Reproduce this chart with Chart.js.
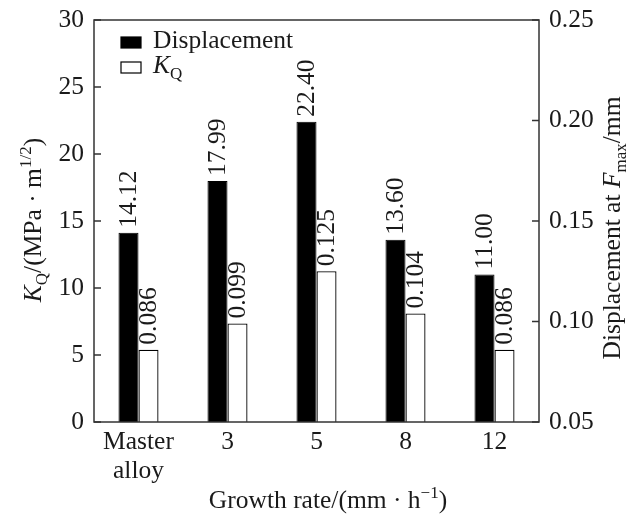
<!DOCTYPE html>
<html>
<head>
<meta charset="utf-8">
<script src="https://cdn.jsdelivr.net/npm/chart.js@4"></script>
<style>
  html, body { margin: 0; padding: 0; background: #fff; }
  #wrap { width: 630px; height: 519px; }
</style>
</head>
<body>
<div id="wrap"><canvas id="grafico" width="630" height="519"></canvas></div>
<script>
// dados
const categorias = [['Master', 'alloy'], '3', '5', '8', '12'];
const valoresKQ = [14.12, 17.99, 22.40, 13.60, 11.00];          // barras pretas (eixo esquerdo)
const valoresDesloc = [0.086, 0.099, 0.125, 0.104, 0.086];      // barras brancas (eixo direito)
const ticksEsquerda = [0, 5, 10, 15, 20, 25, 30];
const ticksDireita = [0.05, 0.10, 0.15, 0.20, 0.25];

const FONTE = 'Liberation Serif';
const TAM = 25.5;
const TAM_P = 17;
const COR = '#1a1a1a';

// desenha texto com itálico / subscrito / sobrescrito
function textoRico(ctx, partes, x, y, rot, alinhar) {
    ctx.save();
    ctx.translate(x, y);
    if (rot) ctx.rotate(rot);
    ctx.textBaseline = 'alphabetic';
    ctx.textAlign = 'left';
    let total = 0;
    partes.forEach(p => {
        ctx.font = (p.it ? 'italic ' : '') + (p.sub || p.sup ? TAM_P : TAM) + 'px "' + FONTE + '"';
        p.w = ctx.measureText(p.t).width;
        total += p.w;
    });
    let cx = alinhar === 'left' ? 0 : -total / 2;
    partes.forEach(p => {
        ctx.font = (p.it ? 'italic ' : '') + (p.sub || p.sup ? TAM_P : TAM) + 'px "' + FONTE + '"';
        let dy = p.sub ? 6 : (p.sup ? -10 : 0);
        ctx.fillStyle = COR;
        ctx.fillText(p.t, cx, dy);
        cx += p.w;
    });
    ctx.restore();
}

const pluginMoldura = {
    id: 'moldura',
    afterDraw(chart) {
        const ctx = chart.ctx;
        const a = chart.chartArea;
        const yL = chart.scales.y;
        const yR = chart.scales.y1;
        ctx.save();
        ctx.strokeStyle = '#333';
        ctx.lineWidth = 1.5;
        ctx.strokeRect(a.left, a.top, a.right - a.left, a.bottom - a.top);
        // ticks para dentro
        ctx.beginPath();
        yL.ticks.forEach(t => {
            const py = yL.getPixelForValue(t.value);
            ctx.moveTo(a.left, py);
            ctx.lineTo(a.left + 7, py);
        });
        yR.ticks.forEach(t => {
            const py = yR.getPixelForValue(t.value);
            ctx.moveTo(a.right, py);
            ctx.lineTo(a.right - 7, py);
        });
        ctx.stroke();
        ctx.restore();

        // títulos dos eixos
        textoRico(ctx, [{ t: 'K', it: true }, { t: 'Q', sub: true }, { t: '/(MPa \u00b7 m' }, { t: '1/2', sup: true }, { t: ')' }], 41, 220, -Math.PI / 2);
        textoRico(ctx, [{ t: 'Displacement at ' }, { t: 'F', it: true }, { t: 'max', sub: true }, { t: '/mm' }], 620, 228, -Math.PI / 2);
        textoRico(ctx, [{ t: 'Growth rate/(mm \u00b7 h' }, { t: '\u22121', sup: true }, { t: ')' }], 328, 508, 0);

        // legenda
        chart.data.datasets.forEach((ds, i) => {
            const ly = 37 + i * 25;
            ctx.save();
            ctx.fillStyle = ds.backgroundColor;
            ctx.fillRect(121, ly, 20, 11);
            ctx.strokeStyle = '#000';
            ctx.lineWidth = 1.2;
            ctx.strokeRect(121, ly, 20, 11);
            ctx.restore();
            const partes = ds.label.split('_');
            const itens = partes.length > 1
                ? [{ t: partes[0], it: true }, { t: partes[1], sub: true }]
                : [{ t: partes[0] }];
            textoRico(ctx, itens, 153, ly + 11, 0, 'left');
        });
    },
    afterDatasetsDraw(chart) {
        // rótulos verticais em cima das barras
        const ctx = chart.ctx;
        chart.data.datasets.forEach((ds, i) => {
            const meta = chart.getDatasetMeta(i);
            meta.data.forEach((bar, j) => {
                const txt = i === 0 ? ds.data[j].toFixed(2) : ds.data[j].toFixed(3);
                ctx.save();
                ctx.translate(bar.x, bar.y - 5);
                ctx.rotate(-Math.PI / 2);
                ctx.font = TAM + 'px "' + FONTE + '"';
                ctx.fillStyle = COR;
                ctx.textAlign = 'left';
                ctx.textBaseline = 'middle';
                ctx.fillText(txt, 0, 1);
                ctx.restore();
            });
        });
    }
};

const dados = {
    labels: categorias,
    datasets: [{
        label: 'Displacement',
        data: valoresKQ,
        yAxisID: 'y',
        backgroundColor: '#000',
        borderColor: '#000',
        borderWidth: 1
    },
    {
        label: 'K_Q',
        data: valoresDesloc,
        yAxisID: 'y1',
        backgroundColor: '#fff',
        borderColor: '#000',
        borderWidth: 1.3
    }]
};

const config = {
    type: 'bar',
    data: dados,
    options: {
        responsive: false,
        animation: false,
        layout: { padding: { top: 20, left: 0, right: 0, bottom: 0 } },
        datasets: { bar: { categoryPercentage: 0.45, barPercentage: 1.0 } },
        plugins: { legend: { display: false }, tooltip: { enabled: false } },
        scales: {
            x: {
                grid: { display: false },
                border: { display: false },
                ticks: { color: COR, font: { family: FONTE, size: TAM, lineHeight: 1.12 }, padding: -2, maxRotation: 0 },
                afterFit(s) { s.height = 97; }
            },
            y: {
                position: 'left',
                min: ticksEsquerda[0],
                max: ticksEsquerda[ticksEsquerda.length - 1],
                afterBuildTicks(s) { s.ticks = ticksEsquerda.map(v => ({ value: v })); },
                grid: { display: false },
                border: { display: false },
                ticks: { color: COR, font: { family: FONTE, size: TAM }, padding: 2 },
                afterFit(s) { s.width = 94; }
            },
            y1: {
                position: 'right',
                min: ticksDireita[0],
                max: ticksDireita[ticksDireita.length - 1],
                afterBuildTicks(s) { s.ticks = ticksDireita.map(v => ({ value: v })); },
                grid: { display: false },
                border: { display: false },
                ticks: { color: COR, font: { family: FONTE, size: TAM }, padding: 2, callback: v => v.toFixed(2) },
                afterFit(s) { s.width = 91; }
            }
        }
    },
    plugins: [pluginMoldura]
};

let grafico = new Chart(document.getElementById('grafico'), config);
</script>
</body>
</html>
